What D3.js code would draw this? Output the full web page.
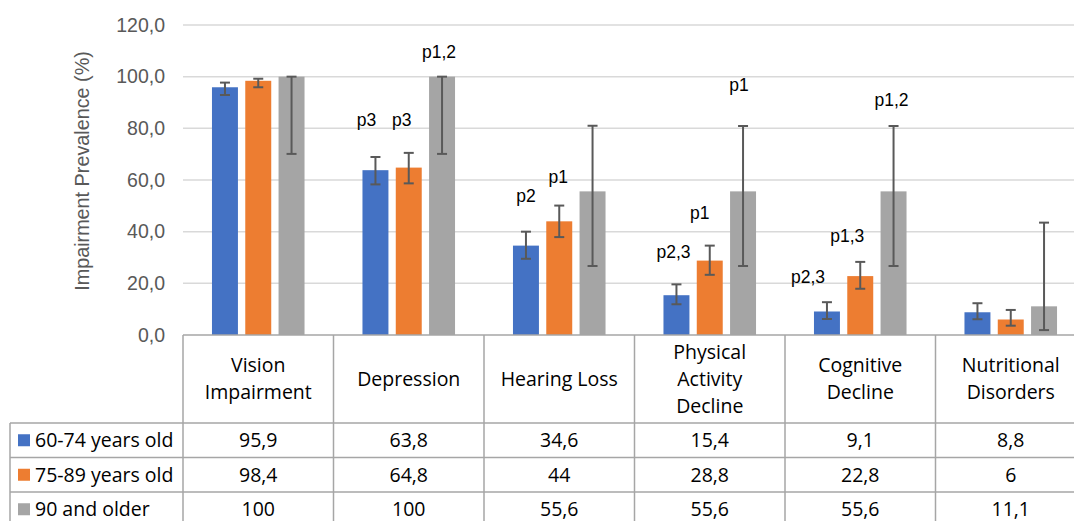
<!DOCTYPE html>
<html>
<head>
<meta charset="utf-8">
<script src="https://cdn.jsdelivr.net/npm/d3@7"></script>
<style>
  body { margin: 0; background: #fff; }
  svg { display: block; }
</style>
</head>
<body>
<svg width="1074" height="521"></svg>
<script>
// categories and series
const categories = ["Vision Impairment", "Depression", "Hearing Loss", "Physical Activity Decline", "Cognitive Decline", "Nutritional Disorders"];
const headerLines = [["Vision", "Impairment"], ["Depression"], ["Hearing Loss"], ["Physical", "Activity", "Decline"], ["Cognitive", "Decline"], ["Nutritional", "Disorders"]];
const seriesNames = ["60-74 years old", "75-89 years old", "90 and older"];

const age60 = [95.9, 63.8, 34.6, 15.4, 9.1, 8.8];
const age75 = [98.4, 64.8, 44, 28.8, 22.8, 6];
const age90 = [100, 100, 55.6, 55.6, 55.6, 11.1];

// error bar bounds
const low60 = [92.9, 58.3, 29.5, 11.9, 6.2, 6.1];
const high60 = [97.7, 68.9, 40.0, 19.6, 12.7, 12.3];
const low75 = [95.9, 58.7, 37.9, 23.3, 17.9, 3.6];
const high75 = [99.2, 70.5, 50.1, 34.6, 28.3, 9.7];
const low90 = [70.1, 70.1, 26.7, 26.7, 26.7, 1.9];
const high90 = [100, 100, 81.0, 80.9, 80.9, 43.5];

const yTicks = [0, 20, 40, 60, 80, 100, 120];

// significance labels: category, series, text, baseline value
const sigLabels = [
    {cat: 1, s: 0, text: "p3", at: 80.9},
    {cat: 1, s: 1, text: "p3", at: 80.9},
    {cat: 1, s: 2, text: "p1,2", at: 107.1},
    {cat: 2, s: 0, text: "p2", at: 51.6},
    {cat: 2, s: 1, text: "p1", at: 59.0},
    {cat: 3, s: 0, text: "p2,3", at: 29.7},
    {cat: 3, s: 1, text: "p1", at: 44.9},
    {cat: 3, s: 2, text: "p1", at: 94.5},
    {cat: 4, s: 0, text: "p2,3", at: 20.2},
    {cat: 4, s: 1, text: "p1,3", at: 36.1},
    {cat: 4, s: 2, text: "p1,2", at: 88.6}
];
// small manual nudges (px) of those labels, same order
const sigNudge = [-9, -7, -3, 0, -1, -3, -10, -4, -19, -13, -2];

const colors = ["#4472C4", "#ED7D31", "#A5A5A5"];
const values = [age60, age75, age90];
const lows = [low60, low75, low90];
const highs = [high60, high75, high90];

const svg = d3.select("svg");
const W = 1074;
const plot = {left: 183, top: 25, bottom: 335, colW: 150.5};
const tableRows = [335, 423, 457.5, 492, 526.5];
const tableLeft = 10;

const x = d3.scaleBand().domain(d3.range(categories.length))
    .range([plot.left, plot.left + plot.colW * categories.length]);
const xs = d3.scaleBand().domain(d3.range(seriesNames.length))
    .range([0, x.bandwidth()]).paddingInner(0.22).paddingOuter(0.87);
const y = d3.scaleLinear().domain([0, 120]).range([plot.bottom, plot.top]);

const locale = d3.formatLocale({decimal: ",", thousands: ".", grouping: [3], currency: ["", "€"]});
const fmt1 = locale.format(".1f");
const fmtVal = v => String(v).replace(".", ",");
const afont = "'Liberation Sans', Arial, sans-serif";

// gridlines
svg.append("g").selectAll("line").data(yTicks.slice(1)).enter().append("line")
    .attr("x1", plot.left).attr("x2", W)
    .attr("y1", d => y(d)).attr("y2", d => y(d))
    .attr("stroke", "#d9d9d9").attr("stroke-width", 1.5);

// y axis labels
const yAxis = d3.axisLeft(y).tickValues(yTicks).tickSize(0).tickPadding(18).tickFormat(fmt1);
const ax = svg.append("g").attr("transform", `translate(${plot.left},0)`).call(yAxis);
ax.select(".domain").remove();
ax.selectAll("text").attr("fill", "#595959").style("font-family", afont).style("font-size", "19.5px");

svg.append("text")
    .attr("transform", `translate(89,${(plot.top + plot.bottom) / 2 - 9}) rotate(-90)`)
    .attr("text-anchor", "middle")
    .attr("fill", "#595959")
    .style("font-family", afont).style("font-size", "19.8px")
    .text("Impairment Prevalence (%)");

// bars
const groups = svg.append("g").selectAll("g").data(seriesNames).enter().append("g")
    .attr("fill", (_, i) => colors[i]);
groups.selectAll("rect").data((_, si) => values[si].map((v, ci) => ({v, ci, si}))).enter().append("rect")
    .attr("x", d => x(d.ci) + xs(d.si))
    .attr("width", xs.bandwidth())
    .attr("y", d => y(d.v))
    .attr("height", d => y(0) - y(d.v));

// error bars
const errs = [];
seriesNames.forEach((_, si) => categories.forEach((_, ci) => errs.push({si, ci, lo: lows[si][ci], hi: highs[si][ci]})));
const eg = svg.append("g").attr("stroke", "#595959").attr("stroke-width", 2);
const ecx = d => x(d.ci) + xs(d.si) + xs.bandwidth() / 2;
eg.selectAll("line.v").data(errs).enter().append("line").attr("class", "v")
    .attr("x1", ecx).attr("x2", ecx).attr("y1", d => y(d.lo)).attr("y2", d => y(d.hi));
eg.selectAll("line.t").data(errs).enter().append("line").attr("class", "t")
    .attr("x1", d => ecx(d) - 5).attr("x2", d => ecx(d) + 5).attr("y1", d => y(d.hi)).attr("y2", d => y(d.hi));
eg.selectAll("line.b").data(errs).enter().append("line").attr("class", "b")
    .attr("x1", d => ecx(d) - 5).attr("x2", d => ecx(d) + 5).attr("y1", d => y(d.lo)).attr("y2", d => y(d.lo));

// significance labels
svg.append("g").selectAll("text").data(sigLabels).enter().append("text")
    .attr("x", (d, i) => x(d.cat) + xs(d.s) + xs.bandwidth() / 2 + sigNudge[i])
    .attr("y", d => y(d.at))
    .attr("text-anchor", "middle")
    .attr("fill", "#000")
    .style("font-family", afont).style("font-size", "17.5px")
    .text(d => d.text);

// data table
const tg = svg.append("g").attr("stroke", "#a6a6a6").attr("stroke-width", 1.5);
const tableRight = plot.left + plot.colW * categories.length;
tg.append("line").attr("x1", plot.left).attr("x2", tableRight).attr("y1", tableRows[0]).attr("y2", tableRows[0]);
tableRows.slice(1, 4).forEach(r => tg.append("line").attr("x1", tableLeft).attr("x2", tableRight).attr("y1", r).attr("y2", r));
d3.range(categories.length + 1).forEach(i => {
    const xx = plot.left + plot.colW * i;
    tg.append("line").attr("x1", xx).attr("x2", xx).attr("y1", tableRows[0]).attr("y2", 521);
});
tg.append("line").attr("x1", tableLeft).attr("x2", tableLeft).attr("y1", tableRows[1]).attr("y2", 521);

const tfont = "'Open Sans', 'Noto Sans', sans-serif";
const lineH = 26.7;
const hy = (tableRows[0] + tableRows[1]) / 2;
headerLines.forEach((lines, ci) => {
    const t = svg.append("text").attr("text-anchor", "middle").attr("fill", "#000")
        .style("font-family", tfont).style("font-size", "19.5px");
    lines.forEach((ln, li) => {
        t.append("tspan").attr("x", x(ci) + x.bandwidth() / 2)
            .attr("y", hy + (li - (lines.length - 1) / 2) * lineH)
            .attr("dy", "0.35em").text(ln);
    });
});

seriesNames.forEach((name, si) => {
    const cy = (tableRows[si + 1] + tableRows[si + 2]) / 2;
    svg.append("rect").attr("x", 18).attr("y", cy - 6).attr("width", 12).attr("height", 12).attr("fill", colors[si]);
    svg.append("text").attr("x", 35).attr("y", cy).attr("dy", "0.35em").attr("fill", "#000")
        .style("font-family", tfont).style("font-size", "19.5px").text(name);
    svg.append("g").selectAll("text").data(values[si]).enter().append("text")
        .attr("x", (_, ci) => x(ci) + x.bandwidth() / 2).attr("y", cy).attr("dy", "0.35em")
        .attr("text-anchor", "middle").attr("fill", "#000")
        .style("font-family", tfont).style("font-size", "19.5px")
        .text(d => fmtVal(d));
});
</script>
</body>
</html>
